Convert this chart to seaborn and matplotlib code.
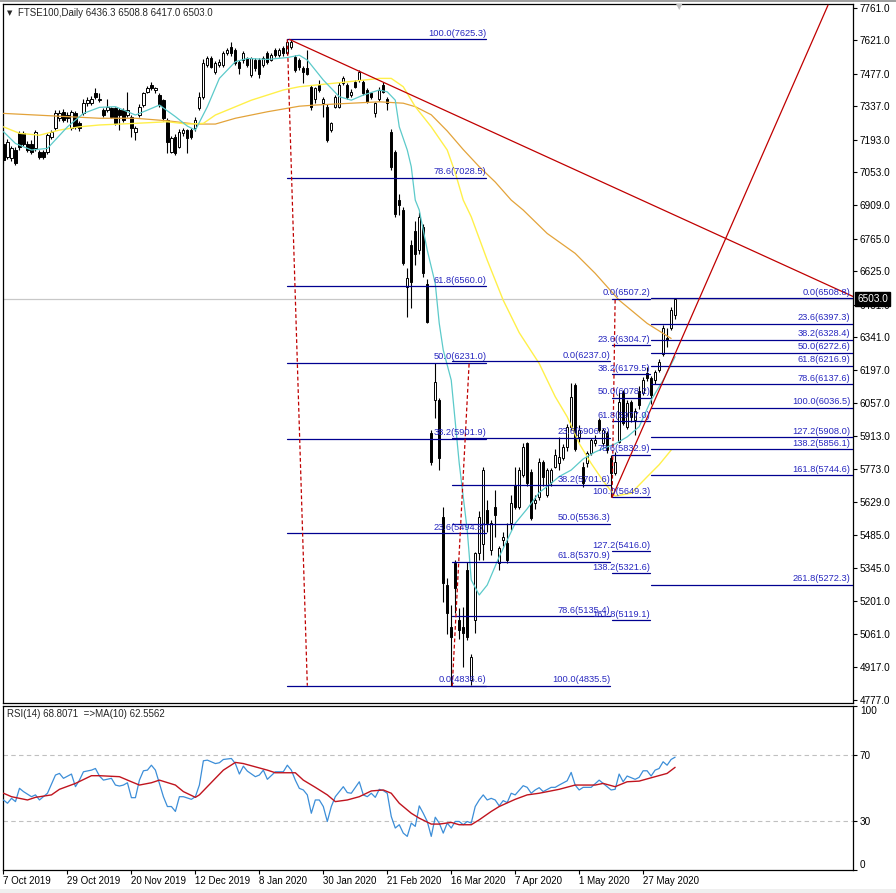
import numpy as np
import matplotlib
matplotlib.use("Agg")
import matplotlib.pyplot as plt
import seaborn as sns
from matplotlib.patches import Rectangle

sns.set_style("white")
plt.rcParams['font.family'] = ['Liberation Sans', 'DejaVu Sans']

# ---- daily OHLC, FTSE100 (bar 0 = 7 Oct 2019) ----
opens = [
    7176, 7119, 7112, 7148, 7220, 7220, 7176, 7176, 7155, 7140,
    7140, 7140, 7205, 7241, 7284, 7313, 7299, 7241, 7306, 7263,
    7306, 7349, 7349, 7392, 7363, 7320, 7320, 7328, 7328, 7320,
    7320, 7299, 7292, 7227, 7299, 7342, 7400, 7428, 7407, 7385,
    7363, 7277, 7140, 7205, 7162, 7220, 7234, 7234, 7241, 7328,
    7378, 7514, 7543, 7485, 7514, 7514, 7565, 7593, 7579, 7529,
    7536, 7543, 7471, 7536, 7536, 7514, 7565, 7536, 7579, 7557,
    7586, 7565, 7593, 7550, 7536, 7500, 7500, 7421, 7370, 7428,
    7349, 7335, 7234, 7335, 7335, 7435, 7428, 7385, 7442, 7450,
    7442, 7407, 7392, 7306, 7370, 7428, 7370, 7227, 7140, 6932,
    6889, 6558, 6738, 6800, 6716, 6817, 6572, 5925, 6069, 6069,
    5564, 5270, 5091, 5365, 5120, 5091, 5336, 4861, 5120, 5408,
    5450, 5595, 5422, 5609, 5365, 5465, 5451, 5537, 5703, 5609,
    5746, 5882, 5760, 5623, 5650, 5803, 5659, 5717, 5782, 5796,
    5818, 5868, 5954, 6134, 5911, 5782, 5796, 5839, 5882, 5983,
    5882, 5925, 5817, 5753, 5889, 6105, 5954, 6062, 5985, 6110,
    6098, 6184, 6163, 6155, 6199, 6270, 6335, 6378, 6436.3]
highs = [
    7190, 7195, 7165, 7160, 7230, 7228, 7185, 7190, 7235, 7150,
    7148, 7222, 7235, 7320, 7320, 7325, 7310, 7320, 7315, 7272,
    7370, 7375, 7380, 7414, 7392, 7330, 7370, 7335, 7335, 7330,
    7328, 7400, 7300, 7250, 7345, 7400, 7425, 7442, 7420, 7395,
    7370, 7285, 7210, 7215, 7240, 7245, 7240, 7245, 7290, 7400,
    7540, 7555, 7555, 7530, 7540, 7575, 7590, 7612, 7590, 7535,
    7575, 7550, 7550, 7545, 7545, 7555, 7575, 7565, 7590, 7590,
    7595, 7625.3, 7622, 7560, 7545, 7510, 7579, 7428, 7420, 7450,
    7378, 7345, 7270, 7385, 7442, 7467, 7435, 7410, 7450, 7493,
    7450, 7415, 7400, 7355, 7421, 7442, 7378, 7240, 7150, 6960,
    6900, 6640, 6760, 6840, 6880, 6830, 6590, 5940, 6227, 6080,
    5609, 5300, 5185, 5380, 5170, 5178, 5372, 4975, 5415, 5590,
    5782, 5640, 5550, 5681, 5440, 5500, 5537, 5659, 5782, 5780,
    5882, 5890, 5770, 5660, 5818, 5810, 5775, 5775, 5860, 5911,
    5880, 5965, 6141, 6141, 5960, 5800, 5850, 5905, 5920, 5990,
    5950, 5935, 5832, 5846, 6105, 6112, 6070, 6070, 6035, 6130,
    6170, 6210, 6175, 6200, 6245, 6395, 6380, 6470, 6508.8]
lows = [
    7090, 7110, 7100, 7083, 7150, 7165, 7140, 7130, 7145, 7110,
    7108, 7130, 7195, 7235, 7275, 7268, 7270, 7235, 7240, 7230,
    7300, 7340, 7342, 7370, 7355, 7290, 7312, 7285, 7255, 7234,
    7270, 7290, 7205, 7191, 7290, 7335, 7392, 7405, 7395, 7335,
    7275, 7133, 7133, 7125, 7155, 7210, 7133, 7195, 7230, 7320,
    7370, 7505, 7500, 7475, 7505, 7505, 7560, 7555, 7515, 7478,
    7525, 7505, 7465, 7490, 7457, 7505, 7520, 7530, 7550, 7550,
    7555, 7558, 7585, 7485, 7495, 7435, 7470, 7320, 7349, 7400,
    7292, 7183, 7225, 7328, 7330, 7428, 7370, 7378, 7414, 7442,
    7385, 7349, 7370, 7292, 7360, 7392, 7320, 7062, 6860, 6868,
    6652, 6429, 6465, 6650, 6700, 6600, 6400, 5790, 5990, 5767,
    5199, 5060, 4836.6, 5150, 5040, 4919, 5034, 4840, 5063, 5380,
    5379, 5500, 5400, 5480, 5336, 5440, 5365, 5508, 5600, 5600,
    5739, 5700, 5552, 5600, 5640, 5700, 5650, 5700, 5775, 5767,
    5810, 5850, 5940, 5850, 5890, 5695, 5780, 5830, 5870, 5930,
    5870, 5840, 5649.3, 5745, 5882, 5960, 5945, 5975, 5920, 6030,
    6090, 6150, 6050, 6140, 6190, 6260, 6300, 6370, 6417.0]
closes = [
    7104, 7183, 7155, 7090, 7162, 7176, 7148, 7140, 7227, 7119,
    7119, 7212, 7227, 7306, 7306, 7277, 7284, 7313, 7248, 7241,
    7349, 7363, 7370, 7378, 7370, 7299, 7335, 7292, 7263, 7299,
    7277, 7320, 7241, 7241, 7335, 7392, 7414, 7414, 7414, 7342,
    7284, 7183, 7198, 7133, 7227, 7234, 7198, 7205, 7277, 7378,
    7522, 7543, 7507, 7522, 7529, 7565, 7579, 7565, 7522, 7500,
    7565, 7514, 7543, 7500, 7478, 7543, 7529, 7557, 7557, 7579,
    7565, 7615, 7615, 7493, 7507, 7486, 7478, 7335, 7414, 7407,
    7370, 7191, 7263, 7378, 7428, 7457, 7378, 7400, 7421, 7486,
    7392, 7356, 7378, 7349, 7407, 7400, 7349, 7076, 6874, 6910,
    6659, 6594, 6580, 6700, 6860, 6616, 6407, 5803, 6148, 5818,
    5279, 5150, 5048, 5257, 5077, 5063, 5048, 4962, 5408, 5566,
    5767, 5537, 5537, 5573, 5429, 5480, 5379, 5623, 5609, 5767,
    5868, 5710, 5559, 5638, 5803, 5739, 5767, 5767, 5832, 5825,
    5868, 5954, 6084, 5860, 5940, 5710, 5839, 5897, 5897, 5940,
    5940, 5853, 5753, 5803, 6062, 5968, 6055, 5997, 6020, 6048,
    6155, 6163, 6091, 6191, 6235, 6378, 6328, 6457, 6503.0]

date_ticks = [0, 16, 32, 48, 64, 80, 96, 112, 128, 144, 160]
date_labels = ["7 Oct 2019", "29 Oct 2019", "20 Nov 2019", "12 Dec 2019",
               "8 Jan 2020", "30 Jan 2020", "21 Feb 2020", "16 Mar 2020",
               "7 Apr 2020", "1 May 2020", "27 May 2020"]
price_ticks = [7761, 7621, 7477, 7337, 7193, 7053, 6909, 6765, 6625, 6481,
               6341, 6197, 6057, 5913, 5773, 5629, 5485, 5345, 5201, 5061,
               4917, 4777]

# moving averages (bar, value)
fast_bar = [0, 3, 7, 11, 16, 20, 24, 28, 33, 36, 39, 43, 46, 48, 51, 54, 58, 61,
            66, 71, 74, 76, 80, 84, 87, 90, 94, 96, 98, 99, 101, 102, 103, 104,
            106, 108, 109, 110, 112, 114, 116, 117, 119, 121, 124, 128, 131, 134,
            137, 139, 142, 145, 148, 150, 153, 156, 159, 162, 165, 168]
fast_val = [7227, 7176, 7148, 7155, 7248, 7306, 7332, 7335, 7299, 7320, 7342,
            7292, 7251, 7234, 7335, 7457, 7529, 7543, 7539, 7547, 7557, 7536,
            7450, 7378, 7363, 7385, 7407, 7399, 7363, 7248, 7148, 7076, 6932,
            6889, 6716, 6572, 6400, 6285, 6155, 5796, 5508, 5293, 5228, 5271,
            5393, 5537, 5600, 5670, 5710, 5739, 5767, 5815, 5845, 5860, 5880,
            5910, 5954, 6069, 6155, 6256]
mid_bar = [0, 4, 9, 14, 19, 24, 33, 41, 46, 50, 53, 62, 70, 74, 78, 86, 94, 97,
           100, 103, 107, 111, 113, 115, 117, 121, 125, 129, 134, 138, 141, 144,
           147, 150, 153, 157, 161, 164, 167]
mid_val = [7248, 7220, 7212, 7234, 7248, 7256, 7263, 7270, 7260, 7263, 7299,
           7363, 7407, 7421, 7428, 7442, 7457, 7457, 7421, 7335, 7248, 7148,
           7050, 6932, 6860, 6673, 6500, 6360, 6227, 6084, 5997, 5882, 5796,
           5720, 5655, 5667, 5738, 5790, 5853]
slow_bar = [0, 8, 16, 24, 33, 41, 48, 53, 58, 66, 74, 78, 86, 94, 100, 103, 107,
            111, 115, 119, 123, 127, 130, 136, 143, 148, 154, 161, 167]
slow_val = [7306, 7299, 7292, 7285, 7285, 7274, 7260, 7260, 7285, 7313, 7337,
            7342, 7349, 7356, 7350, 7335, 7300, 7230, 7150, 7076, 7010, 6932,
            6889, 6788, 6702, 6616, 6500, 6400, 6335]

# RSI(14) and its MA(10)
rsi_bar = [0, 1, 2, 3, 4, 5, 7, 8, 9, 11, 13, 14, 15, 17, 18, 19, 20, 22, 23,
           24, 25, 27, 28, 29, 30, 31, 32, 33, 34, 35, 36, 37, 38, 39, 40, 41,
           42, 43, 44, 45, 47, 48, 49, 50, 51, 53, 54, 55, 57, 58, 59, 60, 61,
           63, 64, 65, 66, 68, 69, 70, 71, 72, 73, 74, 75, 76, 77, 78, 79, 80,
           81, 82, 83, 85, 86, 87, 89, 90, 91, 92, 93, 94, 95, 96, 97, 98, 99,
           100, 101, 102, 103, 104, 105, 106, 107, 108, 109, 110, 111, 112,
           113, 114, 115, 116, 117, 118, 119, 120, 121, 122, 123, 124, 125,
           126, 127, 128, 130, 131, 132, 133, 134, 135, 137, 138, 139, 141,
           142, 143, 144, 145, 147, 149, 150, 152, 153, 154, 155, 156, 158,
           159, 160, 161, 162, 163, 164, 165, 166, 167, 168]
rsi_val = [42.7, 40.7, 43.7, 41.7, 49.8, 47.8, 44.7, 45.8, 42.7, 46.8, 57.9,
           58.9, 55.9, 58.5, 50.8, 54.8, 59.9, 60.9, 61.9, 57.3, 54.8, 55.9,
           51.8, 51.2, 51.8, 53.2, 44.1, 44.1, 54.8, 60.5, 60.9, 63.9, 60.9,
           52.8, 44.7, 38.7, 38.7, 35.7, 44.7, 44.7, 43.1, 44.7, 51.8, 66.6,
           67.0, 64.9, 65.4, 67.4, 68.0, 64.9, 58.5, 63.3, 60.3, 56.9, 57.9,
           60.9, 55.3, 59.9, 59.9, 59.9, 63.9, 60.9, 54.8, 49.8, 48.8, 45.8,
           34.6, 42.7, 42.7, 38.7, 29.6, 38.7, 44.7, 50.8, 47.2, 46.8, 53.8,
           45.8, 44.7, 46.8, 44.3, 49.2, 48.4, 46.8, 32.6, 25.6, 27.6, 22.5,
           20.5, 28.6, 26.6, 39.1, 34.6, 29.6, 20.5, 32.2, 28.6, 22.5, 28.6,
           25.6, 29.6, 29.6, 27.6, 29.6, 28.6, 38.7, 42.7, 45.8, 42.7, 43.7,
           42.7, 39.1, 42.3, 41.1, 46.8, 45.8, 51.4, 50.4, 46.8, 48.8, 50.2,
           47.8, 50.4, 50.4, 51.8, 54.4, 59.5, 51.8, 48.8, 50.4, 50.4, 54.8,
           52.8, 48.8, 49.2, 58.5, 53.8, 57.3, 55.3, 56.5, 60.5, 60.5, 57.3,
           60.9, 61.9, 66.0, 63.9, 67.4, 68.8]
rsi_ma_bar = [0, 2, 6, 8, 12, 14, 18, 22, 24, 29, 32, 34, 37, 39, 43, 45, 48,
              49, 53, 55, 58, 60, 63, 66, 68, 73, 75, 78, 81, 83, 86, 89, 92,
              95, 97, 99, 102, 104, 107, 109, 112, 114, 117, 119, 122, 124,
              128, 131, 134, 139, 143, 148, 150, 153, 156, 159, 163, 166, 168]
rsi_ma_val = [46.8, 44.7, 42.7, 44.3, 45.8, 49.2, 52.8, 57.5, 57.5, 56.9, 53.8,
              51.8, 53.2, 54.8, 51.8, 47.8, 44.3, 45.8, 55.9, 60.9, 65.6, 64.9,
              62.9, 60.9, 59.3, 59.3, 54.8, 50.4, 45.8, 41.7, 42.7, 44.7, 48.2,
              48.8, 46.8, 40.7, 34.6, 31.6, 28.0, 28.0, 29.0, 27.6, 27.6, 30.6,
              35.7, 38.7, 43.1, 45.8, 46.8, 49.2, 51.8, 51.8, 52.8, 50.8, 53.8,
              54.2, 56.9, 58.9, 62.6]

# fibonacci objects: level %, price
fibA_lev = [100.0, 78.6, 61.8, 50.0, 38.2, 23.6, 0.0]
fibA_px = [7625.3, 7028.5, 6560.0, 6231.0, 5901.9, 5494.8, 4836.6]
fibB_lev = [100.0, 78.6, 61.8, 50.0, 38.2, 23.6, 0.0]
fibB_px = [4835.5, 5135.4, 5370.9, 5536.3, 5701.6, 5906.3, 6237.0]
fibC_lev = [0.0, 23.6, 38.2, 50.0, 61.8, 78.6, 100.0, 127.2, 138.2, 161.8]
fibC_px = [6507.2, 6304.7, 6179.5, 6078.2, 5977.0, 5832.9, 5649.3, 5416.0,
           5321.6, 5119.1]
fibD_lev = [0.0, 23.6, 38.2, 50.0, 61.8, 78.6, 100.0, 127.2, 138.2, 161.8, 261.8]
fibD_px = [6508.8, 6397.3, 6328.4, 6272.6, 6216.9, 6137.6, 6036.5, 5908.0,
           5856.1, 5744.6, 5272.3]

# colours
FIB_LINE = '#000090'
FIB_TEXT = '#2828C0'
RED = '#C00000'

W, H = 896, 893
def px_box(l, t, r, b):
    return [l / W, 1 - b / H, (r - l) / W, (b - t) / H]

fig = plt.figure(figsize=(W / 100, H / 100), dpi=100)
fig.add_artist(Rectangle((0, 0), 1, 4 / H, transform=fig.transFigure,
                         color='#EFEFEF', lw=0))
fig.add_artist(Rectangle((0, 1 - 1.5 / H), 1, 1.5 / H, transform=fig.transFigure,
                         color='#A0A0A0', lw=0))
ax = fig.add_axes(px_box(2.7, 4, 853, 703))
ax_rsi = fig.add_axes(px_box(2.7, 706, 853, 870))

bars = np.arange(len(closes))
o = np.array(opens, dtype=float)
c = np.array(closes, dtype=float)
up = c >= o

# current price line
ax.axhline(closes[-1], color='#C8C8C8', lw=0.9, zorder=1)

# candles
ax.vlines(bars, lows, highs, color='black', lw=0.8, zorder=2)
ax.bar(bars[up], np.maximum(c - o, 1)[up], bottom=o[up], width=0.55,
       color='white', edgecolor='black', lw=0.7, zorder=3)
ax.bar(bars[~up], (o - c)[~up], bottom=c[~up], width=0.55,
       color='black', edgecolor='black', lw=0.7, zorder=3)

# moving averages
sns.lineplot(x=slow_bar, y=slow_val, ax=ax, color='#E3A33A', lw=0.9,
             estimator=None, sort=False, zorder=4)
sns.lineplot(x=mid_bar, y=mid_val, ax=ax, color='#FFF04A', lw=1.0,
             estimator=None, sort=False, zorder=4)
sns.lineplot(x=fast_bar, y=fast_val, ax=ax, color='#5CCACA', lw=0.9,
             estimator=None, sort=False, zorder=4)

# fibonacci retracements
def fib(levels, prices, x0, x1, lab_x):
    for lv, p in zip(levels, prices):
        ax.plot([x0, x1], [p, p], color=FIB_LINE, lw=0.9, zorder=5)
        ax.annotate(f"{lv:.1f}({p:.1f})", xy=(lab_x, p), xytext=(0, 1.5),
                    textcoords='offset pixels', ha='right', va='bottom',
                    fontsize=6.7, color=FIB_TEXT, zorder=6)

fib(fibA_lev, fibA_px, 71.0, 120.75, 120.75)
fib(fibB_lev, fibB_px, 112.25, 151.75, 151.75)
fib(fibC_lev, fibC_px, 152.25, 161.75, 161.75)
fib(fibD_lev, fibD_px, 162.0, 213, 211.75)

# fib diagonals (dashed)
dash = (0, (3, 2))
ax.plot([71, 76], [fibA_px[0], fibA_px[-1]], color=RED, lw=0.9, ls=dash, zorder=5)
ax.plot([112.25, 116.5], [fibB_px[0], fibB_px[-1]], color=RED, lw=0.9, ls=dash, zorder=5)
ax.plot([152.25, 153], [fibC_px[6], fibC_px[0]], color=RED, lw=0.9, ls=dash, zorder=5)

# trend lines
ax.plot([71.5, 212.5], [7625.3, 6516], color=RED, lw=0.9, zorder=5)
ax.plot([152.25, 206.25], [5649.3, 7773], color=RED, lw=0.9, zorder=5)

ax.set_xlim(-0.2, 212.5)
ax.set_ylim(4762, 7778)
ax.set_xlabel('')
ax.set_ylabel('')
ax.tick_params(axis='x', bottom=False, labelbottom=False)
ax.yaxis.tick_right()
ax.set_yticks(price_ticks)
ax.set_yticklabels([f"{t:.1f}" for t in price_ticks])
ax.tick_params(axis='y', right=True, left=False, direction='out', length=3,
               width=0.8, pad=2, labelsize=7.2, colors='black')

# price tag
ax.annotate(f"{closes[-1]:.1f}", xy=(1, closes[-1]), xycoords=('axes fraction', 'data'),
            xytext=(4, 0), textcoords='offset pixels', ha='left', va='center',
            fontsize=7.2, color='white', annotation_clip=False, zorder=10,
            bbox=dict(boxstyle='square,pad=0.2', fc='black', ec='black'))

# header
ax.annotate("\u25BC", xy=(0, 1), xycoords='axes fraction', xytext=(4, -9),
            textcoords='offset pixels', ha='left', va='center', fontsize=5,
            family='DejaVu Sans')
ax.annotate("FTSE100,Daily 6436.3 6508.8 6417.0 6503.0", xy=(0, 1),
            xycoords='axes fraction', xytext=(15, -9), textcoords='offset pixels',
            ha='left', va='center', fontsize=7)
ax.annotate("\u25BC", xy=(0, 1), xycoords='axes fraction', xytext=(673, -3),
            textcoords='offset pixels', ha='left', va='center', fontsize=6,
            color='#C0C0C0', family='DejaVu Sans')

# RSI panel
ax_rsi.axhline(70, color='#C0C0C0', lw=0.8, ls=(0, (4, 3)), zorder=1)
ax_rsi.axhline(30, color='#C0C0C0', lw=0.8, ls=(0, (4, 3)), zorder=1)
sns.lineplot(x=rsi_bar, y=rsi_val, ax=ax_rsi, color='#3C8ED8', lw=0.9,
             estimator=None, sort=False, zorder=3)
sns.lineplot(x=rsi_ma_bar, y=rsi_ma_val, ax=ax_rsi, color='#C0141E', lw=1.0,
             estimator=None, sort=False, zorder=4)
ax_rsi.set_xlim(-0.2, 212.5)
ax_rsi.set_ylim(0, 100)
ax_rsi.set_xlabel('')
ax_rsi.set_ylabel('')
ax_rsi.yaxis.tick_right()
ax_rsi.set_yticks([0, 30, 70, 100])
ax_rsi.set_yticklabels(["0", "30", "70", "100"])
ax_rsi.tick_params(axis='y', right=True, left=False, direction='out', length=3,
                   width=0.8, pad=2, labelsize=7.2, colors='black')
yt = ax_rsi.yaxis.get_major_ticks()
yt[0].label2.set_verticalalignment('bottom')
yt[3].label2.set_verticalalignment('top')
ax_rsi.set_xticks(date_ticks)
ax_rsi.set_xticklabels(date_labels, ha='left')
ax_rsi.tick_params(axis='x', bottom=True, direction='out', length=3, width=0.8,
                   pad=1.5, labelsize=7, colors='black')
ax_rsi.annotate("RSI(14) 68.8071  =>MA(10) 62.5562", xy=(0, 1),
                xycoords='axes fraction', xytext=(4, -8), textcoords='offset pixels',
                ha='left', va='center', fontsize=7)

for a in (ax, ax_rsi):
    for s in a.spines.values():
        s.set_color('black')
        s.set_linewidth(0.9)
        s.set_visible(True)

fig.savefig('out.png', dpi=100)
